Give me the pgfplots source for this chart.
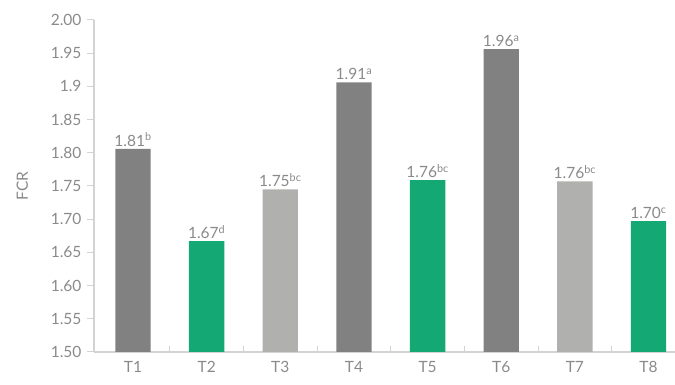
\documentclass[border=0pt]{standalone}
\usepackage{pgfplots}
\usepackage{pgfplotstable}
\pgfplotsset{compat=1.18}
\usepackage{fontspec}
\setmainfont{Lato}
\definecolor{dgray}{HTML}{818181}
\definecolor{lgray}{HTML}{B0B1AF}
\definecolor{bgreen}{HTML}{13A874}
\definecolor{txt}{HTML}{8A8A8A}
\definecolor{axc}{HTML}{D3D3D3}

\pgfplotstableread{
x y label
0 1.806 {1.81\textsuperscript{b}}
3 1.906 {1.91\textsuperscript{a}}
5 1.956 {1.96\textsuperscript{a}}
}\darkdata
\pgfplotstableread{
x y label
1 1.667 {1.67\textsuperscript{d}}
4 1.759 {1.76\textsuperscript{bc}}
7 1.697 {1.70\textsuperscript{c}}
}\greendata
\pgfplotstableread{
x y label
2 1.745 {1.75\textsuperscript{bc}}
6 1.757 {1.76\textsuperscript{bc}}
}\lightdata

\begin{document}
\begin{tikzpicture}
\begin{axis}[
  scale only axis, width=581pt, height=332pt,
  xmin=-0.53, xmax=7.36, ymin=1.5, ymax=2.0,
  axis x line*=bottom, axis y line*=left,
  axis line style={axc, line width=1.3pt},
  ytick={1.50,1.55,1.60,1.65,1.70,1.75,1.80,1.85,1.90,1.95,2.00},
  yticklabels={1.50,1.55,1.60,1.65,1.70,1.75,1.80,1.85,1.9,1.95,2.00},
  xtick={0,1,2,3,4,5,6,7},
  xticklabels={T1,T2,T3,T4,T5,T6,T7,T8},
  minor xtick={0.5,1.5,2.5,3.5,4.5,5.5,6.5},
  major x tick style={draw=none},
  minor x tick style={axc, line width=1pt},
  minor tick length=6pt,
  major tick length=7pt,
  ytick align=outside, xtick align=inside,
  y tick style={axc, line width=1pt},
  tick label style={font=\fontsize{15.5}{18}\selectfont, text=txt},
  yticklabel style={xshift=-2pt},
  xticklabel style={yshift=-6pt},
  ylabel={FCR},
  ylabel style={font=\fontsize{15.5}{18}\selectfont, text=txt},
  ylabel shift=16pt,
  nodes near coords={\pgfplotspointmeta},
  point meta=explicit symbolic,
  every node near coord/.append style={font=\fontsize{15.5}{18}\selectfont, text=txt, yshift=-1pt},
  clip=false,
]
\addplot[ybar, bar width=0.48, bar shift=0pt, fill=dgray, draw=none] table[x=x, y=y, meta=label] {\darkdata};
\addplot[ybar, bar width=0.48, bar shift=0pt, fill=bgreen, draw=none] table[x=x, y=y, meta=label] {\greendata};
\addplot[ybar, bar width=0.48, bar shift=0pt, fill=lgray, draw=none] table[x=x, y=y, meta=label] {\lightdata};
\end{axis}
\pgfresetboundingbox
\path ([xshift=-94pt,yshift=-33pt]current axis.south west) rectangle ([yshift=20pt]current axis.north east);
\end{tikzpicture}
\end{document}
